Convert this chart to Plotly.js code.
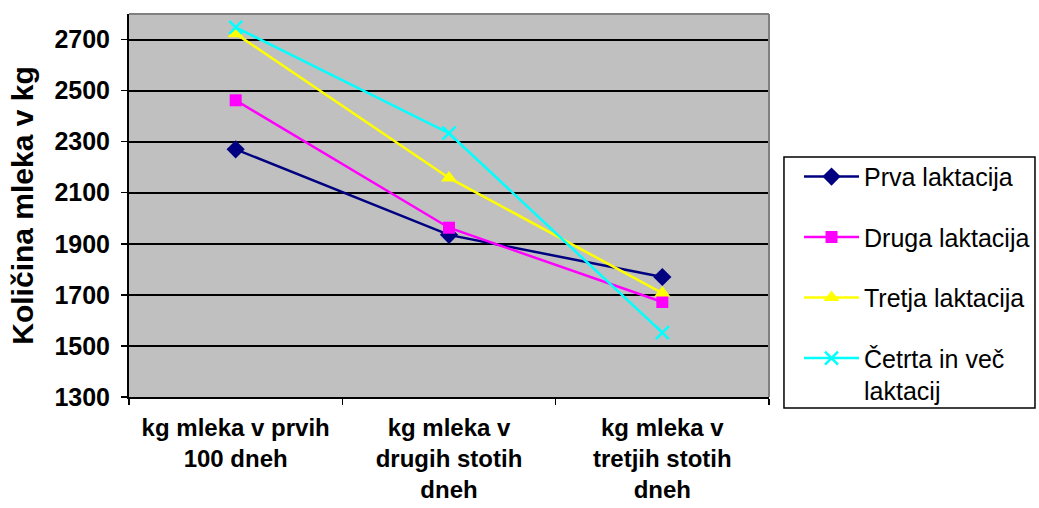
<!DOCTYPE html>
<html>
<head>
<meta charset="utf-8">
<script src="https://cdn.plot.ly/plotly-3.0.1.min.js"></script>
<style>
html,body{margin:0;padding:0;background:#fff;}
#chart{width:1039px;height:508px;}
</style>
</head>
<body>
<div id="chart"></div>
<script>
const categories = [
  "kg mleka v prvih<br>100 dneh",
  "kg mleka v<br>drugih stotih<br>dneh",
  "kg mleka v<br>tretjih stotih<br>dneh"
];
const seriesNames = ["Prva laktacija", "Druga laktacija", "Tretja laktacija", "Četrta in več<br>laktacij"];
const prva = [2270, 1935, 1770];
const druga = [2462, 1963, 1672];
const tretja = [2723, 2158, 1707];
const cetrta = [2748, 2333, 1552];
const yTickVals = [1300, 1500, 1700, 1900, 2100, 2300, 2500, 2700];

const styles = [
  {color: "#000080", symbol: "diamond", size: 14, mline: 0},
  {color: "#FF00FF", symbol: "square", size: 12, mline: 0},
  {color: "#FFFF00", symbol: "triangle-up", size: 14, mline: 0},
  {color: "#00FFFF", symbol: "x-thin-open", size: 13, mline: 2.5}
];
const values = [prva, druga, tretja, cetrta];

const traces = values.map((v, i) => ({
  type: "scatter",
  mode: "lines+markers",
  x: categories,
  y: v,
  name: seriesNames[i],
  legendgroup: "g" + i,
  line: {color: styles[i].color, width: 2.5},
  marker: {
    color: styles[i].color,
    symbol: styles[i].symbol,
    size: styles[i].size,
    line: {color: styles[i].color, width: styles[i].mline}
  },
  cliponaxis: false
}));

const font = "Arial, 'Liberation Sans', sans-serif";

const layout = {
  width: 1039,
  height: 508,
  margin: {l: 129, r: 270, t: 14, b: 111, pad: 0, autoexpand: false},
  paper_bgcolor: "#ffffff",
  plot_bgcolor: "#C0C0C0",
  showlegend: true,
  font: {family: font, color: "#000"},
  xaxis: {
    type: "category",
    range: [-0.5, 2.5],
    showgrid: false,
    zeroline: false,
    showline: true,
    linecolor: "#000",
    linewidth: 2,
    ticks: "outside",
    tickson: "boundaries",
    ticklen: 6,
    tickwidth: 1.5,
    tickcolor: "#000",
    tickfont: {family: font, size: 24, color: "#000", weight: "bold"},
    ticklabelstandoff: 8,
    automargin: false,
    fixedrange: true
  },
  yaxis: {
    range: [1300, 2800],
    tickvals: yTickVals,
    ticktext: yTickVals.map(String),
    showgrid: true,
    gridcolor: "#000",
    gridwidth: 2,
    zeroline: false,
    showline: true,
    linecolor: "#000",
    linewidth: 2,
    ticks: "outside",
    ticklen: 6,
    tickwidth: 1.5,
    tickcolor: "#000",
    tickfont: {family: font, size: 25, color: "#000", weight: "bold"},
    ticklabelstandoff: 6,
    automargin: false,
    title: {text: "Količina mleka v kg", font: {family: font, size: 30, color: "#000", weight: "bold"}, standoff: 12},
    fixedrange: true
  },
  legend: {
    x: 1.0469,
    xanchor: "left",
    y: 0.635,
    yanchor: "top",
    bgcolor: "rgba(0,0,0,0)",
    borderwidth: 0,
    font: {family: font, size: 25, color: "#000"},
    traceorder: "grouped",
    tracegroupgap: 25,
    itemwidth: 55,
    valign: "top"
  },
  shapes: [
    {type: "rect", xref: "paper", yref: "paper", x0: 1.0234, x1: 1.4156, y0: -0.0287, y1: 0.6266,
     fillcolor: "#ffffff", line: {color: "#000", width: 1.5}, layer: "below"},
    {type: "line", xref: "paper", yref: "paper", x0: 0, x1: 1, y0: 1, y1: 1, line: {color: "#808080", width: 2}},
    {type: "line", xref: "paper", yref: "paper", x0: 1, x1: 1, y0: 0, y1: 1, line: {color: "#808080", width: 2}}
  ]
};

Plotly.newPlot("chart", traces, layout, {displayModeBar: false, staticPlot: true});
</script>
</body>
</html>
